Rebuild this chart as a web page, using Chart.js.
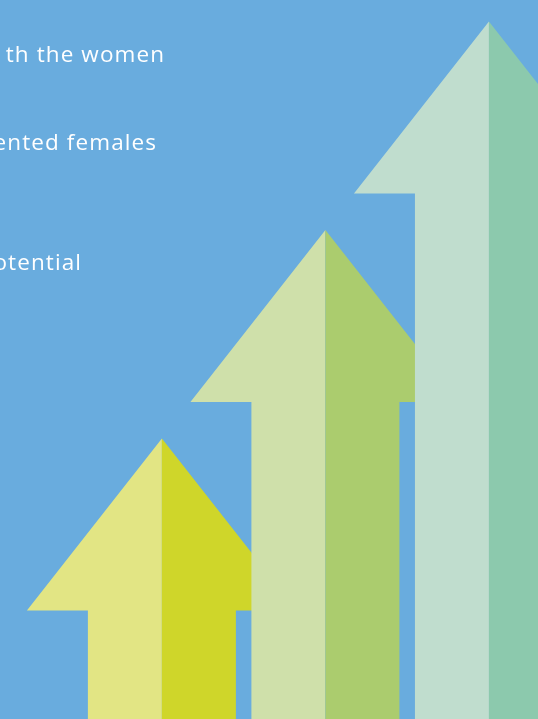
<!DOCTYPE html>
<html>
<head>
<meta charset="utf-8">
<script src="https://cdn.jsdelivr.net/npm/chart.js@4/dist/chart.umd.min.js"></script>
<style>
  html, body { margin: 0; padding: 0; background: #69ACDE; }
  #wrap { position: relative; width: 538px; height: 719px; overflow: hidden; }
</style>
</head>
<body>
<div id="wrap"><canvas id="c"></canvas></div>
<script>
// ---- data ----
const categories = ['Arrow 1', 'Arrow 2', 'Arrow 3'];
const positions = [1, 2, 3];
const values = [39, 68, 97];
const textLines = ['th the women', 'ented females', 'otential'];

// ---- styles ----
const lightColors = ['#E2E584', '#CFE0AA', '#C0DDCE'];
const darkColors  = ['#CFD62A', '#ABCC6E', '#8CC9AD'];
const bgColor = '#69ACDE';
const HEAD_H = 172, HEAD_HALF = 135, SHAFT_HALF = 74;
const textLayout = [
  { right: 164, baseline: 62 },
  { right: 156, baseline: 150 },
  { right: 81,  baseline: 270 }
];

const arrowPlugin = {
  id: 'arrows',
  beforeDraw(chart) {
    const ctx = chart.ctx;
    ctx.save();
    ctx.fillStyle = bgColor;
    ctx.fillRect(0, 0, chart.width, chart.height);
    ctx.fillStyle = '#FFFFFF';
    ctx.font = '22.5px "Open Sans"';
    ctx.letterSpacing = '1.1px';
    ctx.textAlign = 'left';
    ctx.textBaseline = 'alphabetic';
    textLines.forEach((t, i) => {
      const w = ctx.measureText(t).width - 1.1;
      ctx.fillText(t, textLayout[i].right - w, textLayout[i].baseline);
    });
    ctx.restore();
  },
  afterDatasetsDraw(chart) {
    const ctx = chart.ctx;
    const meta = chart.getDatasetMeta(0);
    ctx.save();
    meta.data.forEach((bar, i) => {
      const x = bar.x, top = bar.y, base = bar.base;
      const hb = top + HEAD_H;
      // left half
      ctx.beginPath();
      ctx.moveTo(x, top);
      ctx.lineTo(x - HEAD_HALF, hb);
      ctx.lineTo(x - SHAFT_HALF, hb);
      ctx.lineTo(x - SHAFT_HALF, base);
      ctx.lineTo(x, base);
      ctx.closePath();
      ctx.fillStyle = lightColors[i];
      ctx.fill();
      // right half
      ctx.beginPath();
      ctx.moveTo(x, top);
      ctx.lineTo(x + HEAD_HALF, hb);
      ctx.lineTo(x + SHAFT_HALF, hb);
      ctx.lineTo(x + SHAFT_HALF, base);
      ctx.lineTo(x, base);
      ctx.closePath();
      ctx.fillStyle = darkColors[i];
      ctx.fill();
    });
    ctx.restore();
  }
};

new Chart(document.getElementById('c'), {
  type: 'bar',
  data: {
    labels: categories,
    datasets: [{
      label: 'Arrows',
      data: positions.map((p, i) => ({ x: p, y: values[i] })),
      backgroundColor: 'rgba(0,0,0,0)',
      borderWidth: 0
    }]
  },
  options: {
    responsive: true,
    maintainAspectRatio: false,
    animation: false,
    layout: { padding: 0 },
    plugins: { legend: { display: false }, tooltip: { enabled: false }, title: { display: false } },
    scales: {
      x: { type: 'linear', offset: false, min: 0.01, max: 3.3, display: false },
      y: { min: 0, max: 100, display: false }
    }
  },
  plugins: [arrowPlugin]
});
</script>
</body>
</html>
